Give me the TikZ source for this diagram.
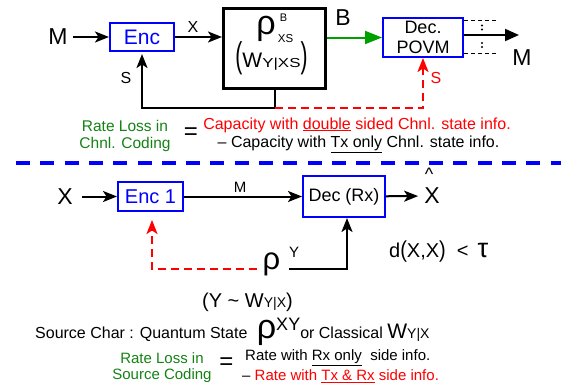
\documentclass[tikz,border=0pt]{standalone}
\usepackage{fontspec}
\setmainfont{Liberation Sans}
\usepackage{graphicx}
\usepackage{tikz}
\usetikzlibrary{arrows.meta,positioning,calc}
\definecolor{qblue}{RGB}{0,0,255}
\definecolor{qred}{RGB}{255,0,0}
\definecolor{qgreen}{RGB}{0,160,0}
\definecolor{qtext}{RGB}{20,130,20}
\newcommand{\fsz}[1]{\fontsize{#1}{#1}\selectfont}
\newcommand{\tallp}[2]{\scalebox{1}[#1]{#2}}
\newcommand{\flatul}[1]{\smash{\underline{#1}}}
\tikzset{
  qs/block/.style={draw=qblue, line width=2pt, inner sep=0pt, align=center},
  qs/chan/.style={draw, line width=3pt, inner sep=0pt, minimum width=102pt, minimum height=80pt},
  qs/line/.style={line width=2pt},
  qs/arrow/.style={qs/line, -{Stealth[length=14pt, width=11pt, inset=3.5pt]}},
  qs/green/.style={qs/line, qgreen, -{Triangle[length=17pt, width=13pt]}},
  qs/side/.style={qs/arrow, qred, dash pattern=on 8pt off 5pt},
  qs/tap/.style={thin, dash pattern=on 4pt off 3pt},
  qs/sep/.style={qblue, line width=3.3pt, dash pattern=on 14pt off 10.3pt},
  qs/sym/.style={inner sep=0pt, font=\fsz{23}},
  qs/lbl/.style={inner sep=0pt, font=\fsz{16}},
  qs/loss/.style={inner sep=0pt, align=center, text=qtext, font=\fontsize{15.5}{17}\selectfont},
  qs/info/.style={inner sep=0pt, anchor=base, font=\fsz{16}},
}

\begin{document}
\begin{tikzpicture}[x=1pt, y=-1pt]
  \useasboundingbox (0,0) rectangle (561,388);

  % channel coding with state
  \node[qs/sym] (min) at (58,37) {M};
  \node[qs/block, minimum width=64pt, minimum height=28pt, text=qblue, font=\fsz{21}] (enc) at (142,37) {Enc};
  \node[qs/chan] (chan) at (274.5,48.5) {};
  \node[inner sep=0pt, anchor=base, font=\fsz{34}] (rho) at (266,34) {ρ};
  \node[inner sep=0pt, anchor=base, font=\fsz{11}] (rhoup) at (283.5,21) {B};
  \node[inner sep=0pt, anchor=base, font=\fsz{11.5}] (rhodn) at (285.5,42) {XS};
  \node[inner sep=0pt, anchor=base] (wyxs) at (271.5,67)
    {\tallp{1.7}{\fsz{21}(}\fsz{21}W\scalebox{1.3}[1]{\fsz{13}Y|XS}\tallp{1.7}{\fsz{21})}};
  \node[qs/block, minimum width=80pt, minimum height=39pt, font=\fontsize{18}{20}\selectfont] (dec) at (423,37.5) {Dec.\\POVM};
  \coordinate (mout) at (519,35);
  \node[qs/sym] (mhat) at (522,58) {M};

  \draw[qs/arrow, shorten <=5pt] (min) -- (enc);
  \draw[qs/arrow] (enc) -- (chan.west |- enc);
  \node[qs/lbl] (xlab) at (193,26.5) {X};
  \draw[qs/green] (chan.east |- dec) -- (dec);
  \node[qs/sym] (blab) at (343,18) {B};

  \draw[qs/tap] (dec.east |- 0,20) -- ++(32,0);
  \draw[qs/tap] (dec.east |- 0,53) -- ++(32,0);
  \fill (482,25.5) circle (1.2) (482,29.5) circle (1.2);
  \fill (482,43) circle (1.2) (482,47) circle (1.2);
  \draw[qs/arrow, -{Triangle[length=14pt, width=12pt]}] (dec.east |- mout) -- (mout);

  \coordinate (tap) at (chan.south |- 0,108);
  \draw[qs/arrow, shorten >=2pt] (chan.south) -- (tap) -| (enc.south);
  \draw[qs/side] (tap) -| (dec.south);
  \node[qs/lbl] (slab) at (126,78) {S};
  \node[qs/lbl, text=qred] (slabr) at (436,78) {S};

  \node[qs/loss, anchor=north] (loss1) at (125,120.5) {Rate Loss in\\Chnl. Coding};
  \node[inner sep=0pt, font=\fsz{24}] (eq1) at (191,134) {=};
  \node[qs/info, text=qred] (cap1) at (357,129) {Capacity with \flatul{double} sided Chnl. state info.};
  \node[qs/info] (cap2) at (358.5,147) {– Capacity with \flatul{Tx only} Chnl. state info.};

  \draw[qs/sep] (16,163) -- (561,163);

  % source coding with side info
  \node[qs/sym] (xin) at (65,196.5) {X};
  \node[qs/block, minimum width=65pt, minimum height=29pt, text=qblue, font=\fsz{20}] (enc1) at (150.5,196.5) {Enc 1};
  \node[qs/block, minimum width=82pt, minimum height=41pt, font=\fsz{18}] (decrx) at (344,196.5) {Dec (Rx)};
  \node[qs/sym] (xhat) at (432,196) {X};
  \node[inner sep=0pt, font=\fsz{18}] (hat) at (429,174) {\textasciicircum};
  \node[inner sep=0pt, anchor=base, font=\fsz{31}] (rhoy) at (271.5,269) {ρ};
  \node[inner sep=0pt, anchor=base, font=\fsz{15}] (rhoyup) at (294,257.5) {Y};

  \draw[qs/arrow, shorten <=9pt] (xin) -- (enc1);
  \draw[qs/arrow] (enc1) -- (decrx);
  \node[inner sep=0pt, font=\fsz{15}] (mlab) at (240,187.5) {M};
  \draw[qs/arrow, shorten >=6pt] (decrx) -- (xhat);
  \draw[qs/arrow] (rhoyup.west |- rhoy.base) -| ([xshift=3pt]decrx.south);
  \draw[qs/side, shorten <=5pt, shorten >=8pt] (rhoy.west |- rhoy.base) -| ([xshift=1.5pt]enc1.south);

  \node[inner sep=0pt, anchor=base west, font=\fsz{20}] (dist) at (389,257)
    {d\tallp{1.15}{(}X,X\tallp{1.15}{)}\hspace{11pt}<\hspace{9pt}{\fsz{27}τ}};
  \node[inner sep=0pt, anchor=base] (ywyx) at (247.5,307)
    {\fsz{20}(Y \textasciitilde{} W{\fsz{14}Y|X})};
  \node[inner sep=0pt, anchor=base west, font=\fsz{16}] (src) at (35,338)
    {Source Char : Quantum State \hspace{5pt}{\fsz{34}ρ}\raisebox{8pt}{\fsz{18}XY}or Classical {\fsz{21}W}{\fsz{14}Y|X}};

  \node[qs/loss, anchor=north, font=\fontsize{15}{16.5}\selectfont] (loss2) at (162,352) {Rate Loss in\\Source Coding};
  \node[inner sep=0pt, font=\fsz{24}] (eq2) at (226.5,363.5) {=};
  \node[inner sep=0pt, anchor=base west, font=\fsz{15}] (rate1) at (245,360.5) {Rate with \flatul{Rx only}\ \ side info.};
  \node[inner sep=0pt, anchor=base west, font=\fsz{15}] (rate2) at (242,380.5)
    {– \textcolor{qred}{Rate with \flatul{Tx \& Rx} side info.}};
\end{tikzpicture}
\end{document}
